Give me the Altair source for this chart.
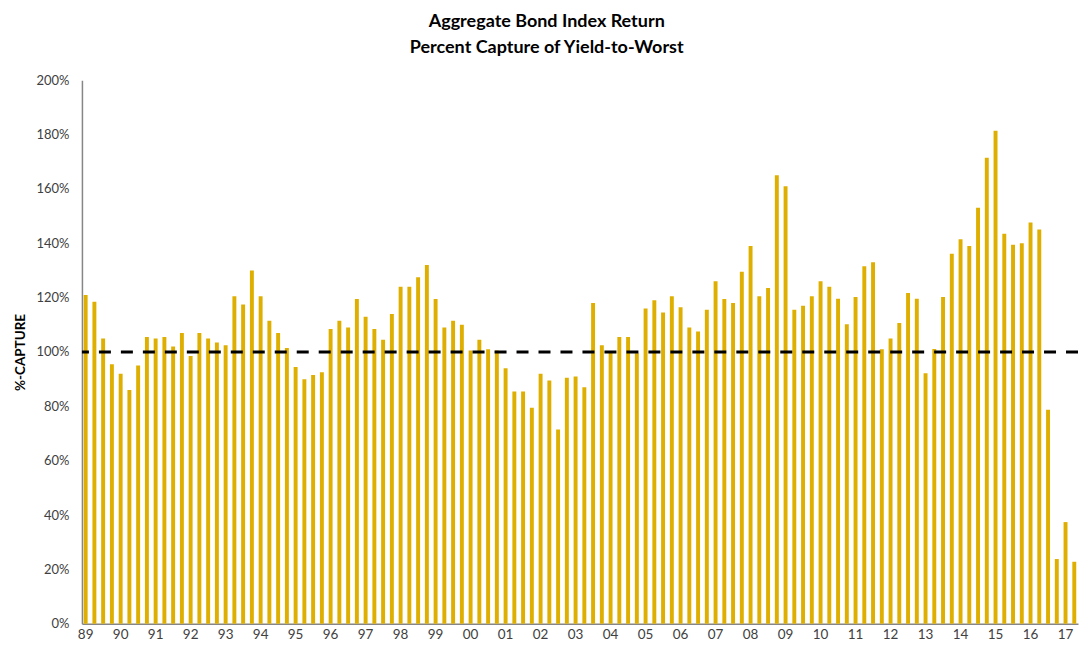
import altair as alt
import pandas as pd

# Year labels on the x axis (one label every four quarters)
year_labels = ["89", "90", "91", "92", "93", "94", "95", "96", "97", "98", "99",
               "00", "01", "02", "03", "04", "05", "06", "07", "08", "09",
               "10", "11", "12", "13", "14", "15", "16", "17"]
quarter_suffixes = ["Q1", "Q2", "Q3", "Q4"]

# Percent capture of yield-to-worst, quarterly, 1989Q1 .. 2017Q2
capture = [
    121, 118.5, 105, 95.5, 92, 86, 95, 105.5, 105, 105.5,
    102, 107, 98.5, 107, 105, 103.5, 102.5, 120.5, 117.5, 130,
    120.5, 111.5, 107, 101.5, 94.5, 90, 91.5, 92.5, 108.5, 111.5,
    109, 119.5, 113, 108.5, 104.5, 114, 124, 124, 127.5, 132,
    119.5, 109, 111.5, 110, 100.5, 104.5, 101, 100.5, 94, 85.5,
    85.5, 79.5, 92, 89.5, 71.5, 90.5, 91, 87, 118, 102.5,
    100, 105.5, 105.5, 99.5, 116, 119, 114.5, 120.5, 116.5, 109,
    107.5, 115.5, 126, 119.5, 118, 129.5, 139, 120.5, 123.5, 165,
    161, 115.5, 117, 120.5, 126, 124, 119.6, 110.2, 120.2, 131.5,
    133, 101, 105, 110.7, 121.7, 119.6, 92.2, 101.1, 120.2, 136.1,
    141.5, 139, 153.1, 171.5, 181.4, 143.5, 139.5, 140, 147.6, 145.1,
    78.7, 23.8, 37.4, 22.8,
]

reference_level = [100]
y_ticks = [0, 20, 40, 60, 80, 100, 120, 140, 160, 180, 200]

quarters = [y + q for y in year_labels for q in quarter_suffixes][: len(capture)]
df = pd.DataFrame({"quarter": quarters, "capture": capture})
ref_df = pd.DataFrame({"level": reference_level})

FONT = "Lato"
LABEL_COLOR = "#404040"
AXIS_COLOR = "#868686"

bars = alt.Chart(df).mark_bar(color="#DEAF00").encode(
    x=alt.X(
        "quarter:N",
        sort=None,
        scale=alt.Scale(paddingInner=0.55, paddingOuter=0.2),
        axis=alt.Axis(
            title=None,
            values=[y + "Q1" for y in year_labels],
            labelExpr="substring(datum.label, 0, 2)",
            labelAngle=0,
            ticks=False,
            labelPadding=4,
            labelFont=FONT,
            labelFontSize=13.5,
            labelColor=LABEL_COLOR,
            domainColor=AXIS_COLOR,
            domainWidth=1.5,
        ),
    ),
    y=alt.Y(
        "capture:Q",
        scale=alt.Scale(domain=[0, 200], nice=False),
        axis=alt.Axis(
            title="%-CAPTURE",
            values=y_ticks,
            labelExpr="datum.value + '%'",
            ticks=False,
            grid=False,
            labelPadding=13,
            labelFont=FONT,
            labelFontSize=13,
            labelColor=LABEL_COLOR,
            domainColor=AXIS_COLOR,
            domainWidth=1.5,
            titleFont=FONT,
            titleFontSize=13.5,
            titleFontWeight="bold",
            titleColor="#000000",
            titlePadding=8,
        ),
    ),
)

rule = alt.Chart(ref_df).mark_rule(
    color="black", strokeWidth=3, strokeDash=[12, 10]
).encode(y="level:Q")

chart = (
    alt.layer(bars, rule)
    .properties(
        width=997,
        height=544,
        title=alt.TitleParams(
            text=["Aggregate Bond Index Return", "Percent Capture of Yield-to-Worst"],
            font=FONT,
            fontSize=18,
            fontWeight="bold",
            color="#000000",
            anchor="middle",
            frame="bounds",
            lineHeight=26,
            offset=17,
        ),
        padding={"left": 5, "top": 5, "right": 0, "bottom": 0},
    )
    .configure_view(stroke=None)
)

chart.save("out.html", embed_options={"renderer": "svg", "actions": False})
